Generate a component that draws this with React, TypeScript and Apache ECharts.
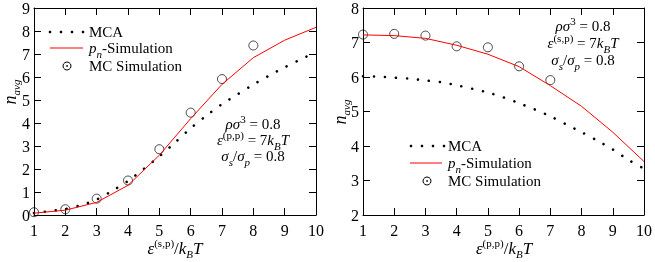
import React, { useEffect, useRef } from "react";
import * as echarts from "echarts";

// ---------- data ----------
const leftMCAx = [1, 1.5, 2, 2.5, 3, 3.5, 4, 4.5, 5, 5.5, 6, 6.5, 7, 7.5, 8, 8.5, 9, 9.5, 10];
const leftMCA = [0.08, 0.17, 0.26, 0.43, 0.67, 1.05, 1.48, 2.0, 2.55, 3.15, 3.77, 4.32, 4.82, 5.25, 5.67, 6.06, 6.42, 6.76, 7.07];
const leftPnX = [1, 2, 3, 4, 5, 6, 7, 8, 9, 10];
const leftPn = [0.08, 0.21, 0.55, 1.29, 2.6, 4.19, 5.68, 6.84, 7.6, 8.16];
const leftMCx = [1, 2, 3, 4, 5, 6, 7, 8];
const leftMC = [0.12, 0.25, 0.71, 1.5, 2.86, 4.45, 5.91, 7.37];

const rightMCAx = [1, 1.5, 2, 2.5, 3, 3.5, 4, 4.5, 5, 5.5, 6, 6.5, 7, 7.5, 8, 8.5, 9, 9.5, 10];
const rightMCA = [6.02, 6.01, 5.98, 5.95, 5.9, 5.85, 5.76, 5.66, 5.55, 5.41, 5.24, 5.06, 4.86, 4.63, 4.4, 4.16, 3.9, 3.6, 3.34];
const rightPnX = [1, 2, 3, 4, 5, 6, 7, 8, 9, 10];
const rightPn = [7.22, 7.2, 7.12, 6.92, 6.66, 6.3, 5.75, 5.15, 4.4, 3.55];
const rightMCx = [1, 2, 3, 4, 5, 6, 7];
const rightMC = [7.23, 7.25, 7.2, 6.89, 6.86, 6.31, 5.91];

const xRange = [1, 10];
const leftYRange = [0, 9];
const rightYRange = [2, 8];

const F = "Liberation Serif";

const zip = (xs: number[], ys: number[]) => xs.map((x, i) => [x, ys[i]]);

const rich = (size = 15) => ({
  t: { fontFamily: F, fontSize: size, lineHeight: 22, fill: "#000", verticalAlign: "middle" },
  i: { fontFamily: F, fontSize: size, fontStyle: "italic", lineHeight: 22, fill: "#000", verticalAlign: "middle" },
  sp: { fontFamily: F, fontSize: 11, lineHeight: 10, fill: "#000", verticalAlign: "top" },
  sbi: { fontFamily: F, fontSize: 11, fontStyle: "italic", lineHeight: 10, fill: "#000", verticalAlign: "bottom" },
});

const txt = (x: number, y: number, text: string, align = "center", rotation = 0, size = 15) => ({
  type: "text",
  x,
  y,
  rotation,
  style: {
    text,
    rich: rich(size),
    fontFamily: F,
    fontSize: size,
    fill: "#000",
    align,
    verticalAlign: "middle",
  },
});

const dotsLegend = (x0: number, y: number) =>
  [0, 1, 2, 3].map((k) => ({
    type: "circle",
    shape: { cx: x0 + k * 11, cy: y, r: 1.3 },
    style: { fill: "#000" },
  }));

const lineLegend = (x1: number, x2: number, y: number) => ({
  type: "line",
  shape: { x1, y1: y, x2, y2: y },
  style: { stroke: "#f00", lineWidth: 1 },
});

const circLegend = (cx: number, cy: number) => [
  { type: "circle", shape: { cx, cy, r: 4 }, style: { fill: "none", stroke: "#000", lineWidth: 1 } },
  { type: "circle", shape: { cx, cy, r: 0.8 }, style: { fill: "#000" } },
];

const axisCommon = (showLabel: boolean, margin: number) => ({
  axisLine: { show: true, onZero: false, lineStyle: { color: "#000", width: 1 } },
  axisTick: { show: true, inside: true, length: 7, lineStyle: { color: "#000", width: 1 } },
  axisLabel: { show: showLabel, fontFamily: F, fontSize: 16, color: "#000", margin },
  splitLine: { show: false },
});

const xAx = (position: string, showLabel: boolean) => ({
  type: "value",
  position,
  min: xRange[0],
  max: xRange[1],
  interval: 1,
  ...axisCommon(showLabel, 7),
});

const yAx = (position: string, showLabel: boolean, r: number[]) => ({
  type: "value",
  position,
  min: r[0],
  max: r[1],
  interval: 1,
  ...axisCommon(showLabel, 4),
});

const mcaSeries = (xs: number[], ys: number[]) => ({
  type: "line",
  data: zip(xs, ys),
  showSymbol: false,
  smooth: 0.3,
  lineStyle: { color: "#000", width: 2.6, type: [0.01, 11], cap: "round" },
});
const pnSeries = (xs: number[], ys: number[]) => ({
  type: "line",
  data: zip(xs, ys),
  showSymbol: false,
  lineStyle: { color: "#f00", width: 1 },
});
const mcSeries = (xs: number[], ys: number[]) => ({
  type: "scatter",
  data: zip(xs, ys),
  symbol: "circle",
  symbolSize: 9,
  itemStyle: { color: "rgba(0,0,0,0)", borderColor: "#000", borderWidth: 0.9 },
});

const EPS_SP = "{i|ε}{sp|(s,p)}";
const EPS_PP = "{i|ε}{sp|(p,p)}";

const buildLeft = () => ({
  animation: false,
  grid: { left: 34, top: 7, width: 282, height: 208 },
  xAxis: [xAx("bottom", true), xAx("top", false)],
  yAxis: [yAx("left", true, leftYRange), yAx("right", false, leftYRange)],
  series: [mcaSeries(leftMCAx, leftMCA), pnSeries(leftPnX, leftPn), mcSeries(leftMCx, leftMC)],
  graphic: [
    txt(10, 92, "{i|n}{sbi|avg}", "center", Math.PI / 2, 18),
    txt(175, 248, EPS_SP + "{t|/}{i|k}{sbi|B}{i|T}", "center", 0, 17),
    txt(253, 124, "{i|ρσ}{sp|3}{t| = 0.8}"),
    txt(253, 140, EPS_PP + "{t| = 7}{i|k}{sbi|B}{i|T}"),
    txt(253, 156, "{i|σ}{sbi|s}{t|/}{i|σ}{sbi|p}{t| = 0.8}"),
    ...dotsLegend(50, 32),
    txt(89, 32, "{t|MCA}", "left"),
    lineLegend(50, 83, 48),
    txt(89, 48, "{i|p}{sbi|n}{t|-Simulation}", "left"),
    ...circLegend(67, 66),
    txt(89, 66, "{t|MC Simulation}", "left"),
  ],
});

const buildRight = () => ({
  animation: false,
  grid: { left: 33, top: 8, width: 282, height: 207 },
  xAxis: [xAx("bottom", true), xAx("top", false)],
  yAxis: [yAx("left", true, rightYRange), yAx("right", false, rightYRange)],
  series: [mcaSeries(rightMCAx, rightMCA), pnSeries(rightPnX, rightPn), mcSeries(rightMCx, rightMC)],
  graphic: [
    txt(10, 112, "{i|n}{sbi|avg}", "center", Math.PI / 2, 18),
    txt(174, 248, EPS_PP + "{t|/}{i|k}{sbi|B}{i|T}", "center", 0, 17),
    txt(253, 26, "{i|ρσ}{sp|3}{t| = 0.8}"),
    txt(253, 43, EPS_SP + "{t| = 7}{i|k}{sbi|B}{i|T}"),
    txt(253, 60, "{i|σ}{sbi|s}{t|/}{i|σ}{sbi|p}{t| = 0.8}"),
    ...dotsLegend(81, 146),
    txt(118, 146, "{t|MCA}", "left"),
    lineLegend(80, 112, 163),
    txt(118, 163, "{i|p}{sbi|n}{t|-Simulation}", "left"),
    ...circLegend(97, 181),
    txt(118, 181, "{t|MC Simulation}", "left"),
  ],
});

function Panel({ left, width, build }: { left: number; width: number; build: () => any }) {
  const ref = useRef<HTMLDivElement>(null);
  useEffect(() => {
    if (!ref.current) return;
    const chart = echarts.init(ref.current, undefined, { renderer: "svg" });
    chart.setOption(build());
    return () => chart.dispose();
  }, [build]);
  return <div ref={ref} style={{ position: "fixed", left, top: 0, width, height: 262 }} />;
}

export default function App() {
  return (
    <div>
      <Panel left={0} width={330} build={buildLeft} />
      <Panel left={330} width={325} build={buildRight} />
    </div>
  );
}
